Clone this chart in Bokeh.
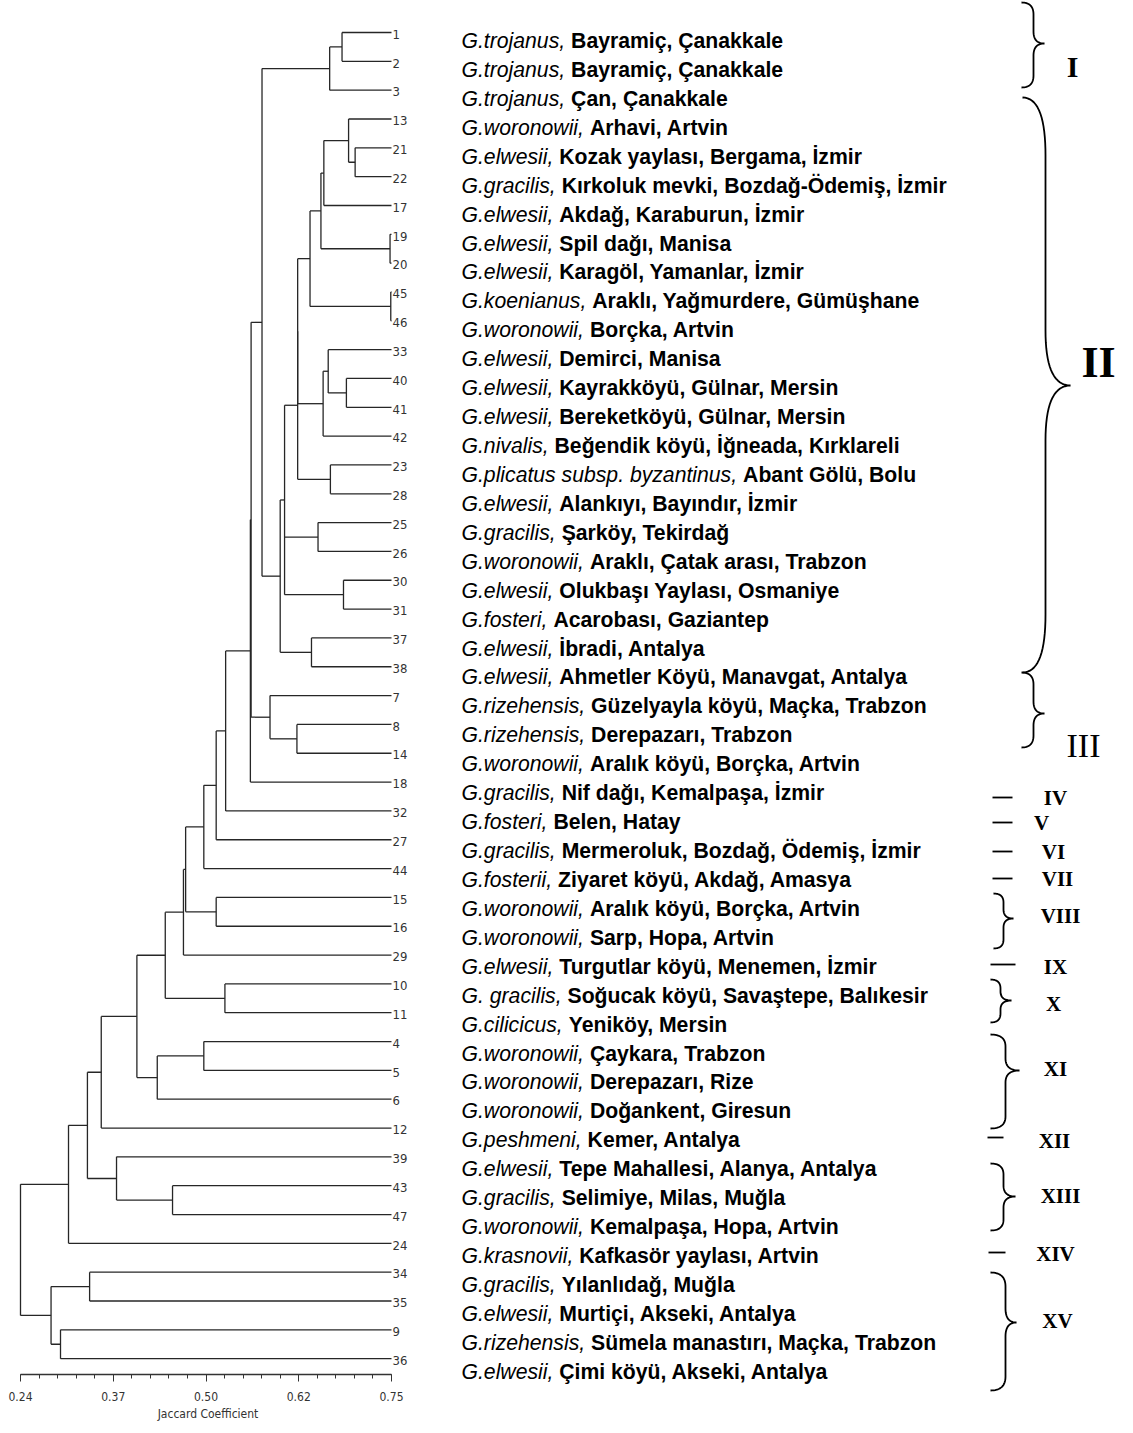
import numpy as np
from bokeh.plotting import figure
from bokeh.models import Range1d, LinearAxis, FixedTicker
from bokeh.layouts import row
from bokeh.core.properties import value
from bokeh.embed import file_html
from bokeh.resources import INLINE

# ---------------- data ----------------
leaf_order = [1, 2, 3, 13, 21, 22, 17, 19, 20, 45, 46, 33, 40, 41, 42, 23, 28, 25, 26,
              30, 31, 37, 38, 7, 8, 14, 18, 32, 27, 44, 15, 16, 29, 10, 11, 4, 5, 6, 12,
              39, 43, 47, 24, 34, 35, 9, 36]

species = ["G.trojanus,", "G.trojanus,", "G.trojanus,", "G.woronowii,", "G.elwesii,",
           "G.gracilis,", "G.elwesii,", "G.elwesii,", "G.elwesii,", "G.koenianus,",
           "G.woronowii,", "G.elwesii,", "G.elwesii,", "G.elwesii,", "G.nivalis,",
           "G.plicatus subsp. byzantinus,", "G.elwesii,", "G.gracilis,", "G.woronowii,",
           "G.elwesii,", "G.fosteri,", "G.elwesii,", "G.elwesii,", "G.rizehensis,",
           "G.rizehensis,", "G.woronowii,", "G.gracilis,", "G.fosteri,", "G.gracilis,",
           "G.fosterii,", "G.woronowii,", "G.woronowii,", "G.elwesii,", "G. gracilis,",
           "G.cilicicus,", "G.woronowii,", "G.woronowii,", "G.woronowii,", "G.peshmeni,",
           "G.elwesii,", "G.gracilis,", "G.woronowii,", "G.krasnovii,", "G.gracilis,",
           "G.elwesii,", "G.rizehensis,", "G.elwesii,"]

localities = ["Bayramiç, Çanakkale", "Bayramiç, Çanakkale", "Çan, Çanakkale",
              "Arhavi, Artvin", "Kozak yaylası, Bergama, İzmir",
              "Kırkoluk mevki, Bozdağ-Ödemiş, İzmir", "Akdağ, Karaburun, İzmir",
              "Spil dağı, Manisa", "Karagöl, Yamanlar, İzmir",
              "Araklı, Yağmurdere, Gümüşhane", "Borçka, Artvin", "Demirci, Manisa",
              "Kayrakköyü, Gülnar, Mersin", "Bereketköyü, Gülnar, Mersin",
              "Beğendik köyü, İğneada, Kırklareli", "Abant Gölü, Bolu",
              "Alankıyı, Bayındır, İzmir", "Şarköy, Tekirdağ",
              "Araklı, Çatak arası, Trabzon", "Olukbaşı Yaylası, Osmaniye",
              "Acarobası, Gaziantep", "İbradi, Antalya",
              "Ahmetler Köyü, Manavgat, Antalya", "Güzelyayla köyü, Maçka, Trabzon",
              "Derepazarı, Trabzon", "Aralık köyü, Borçka, Artvin",
              "Nif dağı, Kemalpaşa, İzmir", "Belen, Hatay",
              "Mermeroluk, Bozdağ, Ödemiş, İzmir", "Ziyaret köyü, Akdağ, Amasya",
              "Aralık köyü, Borçka, Artvin", "Sarp, Hopa, Artvin",
              "Turgutlar köyü,  Menemen, İzmir", "Soğucak köyü, Savaştepe, Balıkesir",
              "Yeniköy, Mersin", "Çaykara, Trabzon", "Derepazarı, Rize",
              "Doğankent, Giresun", "Kemer, Antalya", "Tepe Mahallesi, Alanya, Antalya",
              "Selimiye, Milas, Muğla", "Kemalpaşa, Hopa, Artvin",
              "Kafkasör yaylası, Artvin", "Yılanlıdağ, Muğla", "Murtiçi, Akseki, Antalya",
              "Sümela manastırı, Maçka, Trabzon", "Çimi köyü, Akseki, Antalya"]

merge_names = ["a1", "a2", "b1", "b2", "b3", "b4", "b5", "b6", "b7", "c1", "c2", "c3",
               "d1", "e1", "e2", "f1", "f2", "g1", "h1", "g2", "t1", "i1", "i2", "s1",
               "s2", "v1", "w1", "x1", "j1", "y1", "z1", "k1", "aa", "l1", "l2", "bb",
               "cc", "m1", "m2", "dd", "ee", "n1", "n2", "n3", "root"]
merge_children = [[1, 2], ["a1", 3], [21, 22], [13, "b1"], ["b2", 17], [19, 20],
                  ["b3", "b4"], [45, 46], ["b5", "b6"], [40, 41], [33, "c1"], ["c2", 42],
                  [23, 28], ["b7", "c3"], ["e1", "d1"], [25, 26], [30, 31],
                  ["e2", "f1", "f2"], [37, 38], ["g1", "h1"], ["a2", "g2"], [8, 14],
                  [7, "i1"], ["t1", "i2"], ["s1", 18], ["s2", 32], ["v1", 27], ["w1", 44],
                  [15, 16], ["x1", "j1"], ["y1", 29], [10, 11], ["z1", "k1"], [4, 5],
                  ["l1", 6], ["aa", "l2"], ["bb", 12], [43, 47], [39, "m1"], ["cc", "m2"],
                  ["dd", 24], [34, 35], [9, 36], ["n1", "n2"], ["ee", "n3"]]
merge_heights = [0.682, 0.665, 0.700, 0.691, 0.657, 0.748, 0.653, 0.749, 0.638, 0.688,
                 0.663, 0.656, 0.666, 0.621, 0.621, 0.649, 0.684, 0.603, 0.640, 0.597,
                 0.572, 0.620, 0.583, 0.557, 0.556, 0.522, 0.509, 0.492, 0.509, 0.467,
                 0.464, 0.521, 0.439, 0.492, 0.428, 0.400, 0.351, 0.449, 0.372, 0.332,
                 0.306, 0.335, 0.295, 0.282, 0.240]

tick_values = [0.24, 0.3675, 0.495, 0.6225, 0.75]
tick_labels = ["0.24", "0.37", "0.50", "0.62", "0.75"]
axis_title = "Jaccard Coefficient"

group_names = ["I", "II", "III", "IV", "V", "VI", "VII", "VIII", "IX", "X", "XI", "XII",
               "XIII", "XIV", "XV"]

# ---------------- layout helpers (pixel placement) ----------------
KX = 0.51 / 371.0
def xd(px):
    return 0.24 + (px - 20.0) * KX
def yd(py):
    return (py - 32.0) / 28.83

LEAF_X = 0.75
LINE = "#262626"
NARROW = "DejaVu Sans Condensed"
SPLIT = 415
TOTAL_W = 1130
TOTAL_H = 1430
AXIS_Y = 1374

def no_align(fig):
    try:
        fig.frame_align = False
    except Exception:
        pass

# ---------------- left figure: dendrogram ----------------
left = figure(width=SPLIT, height=TOTAL_H,
              x_range=Range1d(xd(0), xd(SPLIT)), y_range=Range1d(yd(AXIS_Y), yd(0)),
              output_backend="svg", toolbar_location=None,
              x_axis_location=None, y_axis_location=None,
              min_border_left=0, min_border_right=0, min_border_top=0,
              min_border_bottom=TOTAL_H - AXIS_Y)
left.outline_line_color = None
left.grid.visible = False
no_align(left)

pos = {}
for i, leaf in enumerate(leaf_order):
    pos[leaf] = (LEAF_X, float(i))
x0s, y0s, x1s, y1s = [], [], [], []
for name, kids, h in zip(merge_names, merge_children, merge_heights):
    ys = [pos[k][1] for k in kids]
    for k in kids:
        kx, ky = pos[k]
        x0s.append(h); y0s.append(ky); x1s.append(kx); y1s.append(ky)
    x0s.append(h); y0s.append(min(ys)); x1s.append(h); y1s.append(max(ys))
    pos[name] = (h, (ys[0] + ys[-1]) / 2.0)
left.segment(x0=x0s, y0=y0s, x1=x1s, y1=y1s, line_color=LINE, line_width=1.3)

left.text(x=[xd(392)] * len(leaf_order), y=[i + 0.06 for i in range(len(leaf_order))],
          text=[str(v) for v in leaf_order], text_font=value(NARROW),
          text_font_size="13px", text_color="#333333", text_align="left",
          text_baseline="middle")

minor = [0.24 + 0.0255 * k for k in range(21)]
ax = LinearAxis(ticker=FixedTicker(ticks=tick_values, minor_ticks=minor),
                bounds=(0.24, 0.75), axis_label=axis_title)
ax.major_label_overrides = dict(zip(tick_values, tick_labels))
ax.axis_line_color = "#333333"
ax.axis_line_width = 1.5
ax.major_tick_line_color = "#333333"
ax.minor_tick_line_color = "#333333"
ax.major_tick_in = 0
ax.major_tick_out = 7
ax.minor_tick_in = 0
ax.minor_tick_out = 4
ax.major_label_text_font = NARROW
ax.major_label_text_font_size = "12px"
ax.major_label_text_color = "#333333"
ax.major_label_standoff = 10
ax.axis_label_text_font = NARROW
ax.axis_label_text_font_size = "12px"
ax.axis_label_text_font_style = "normal"
ax.axis_label_text_color = "#333333"
ax.axis_label_standoff = 3
left.add_layout(ax, "below")

# ---------------- right figure: labels and groups ----------------
right = figure(width=TOTAL_W - SPLIT, height=TOTAL_H,
               x_range=Range1d(xd(SPLIT), xd(TOTAL_W)), y_range=Range1d(yd(TOTAL_H), yd(0)),
               output_backend="svg", toolbar_location=None,
               x_axis_location=None, y_axis_location=None, min_border=0)
right.outline_line_color = None
right.grid.visible = False
no_align(right)

W = {'a': 556, 'b': 556, 'c': 500, 'd': 556, 'e': 556, 'f': 278, 'g': 556, 'h': 556,
     'i': 222, 'j': 222, 'k': 500, 'l': 222, 'm': 833, 'n': 556, 'o': 556, 'p': 556,
     'q': 556, 'r': 333, 's': 500, 't': 278, 'u': 556, 'v': 500, 'w': 722, 'x': 500,
     'y': 500, 'z': 500, 'G': 778, '.': 278, ',': 278, ' ': 278}
FS = 21.2
TX = 461
row_y = [yd(40 + 28.93 * i) for i in range(len(species))]
sp_x = [xd(TX)] * len(species)
loc_x = [xd(TX + (sum(W.get(c, 556) for c in s) + 278) * FS / 1000.0) for s in species]
right.text(x=sp_x, y=row_y, text=species, text_font=value("Liberation Sans"),
           text_font_size=f"{FS}px", text_font_style="italic", text_color="black",
           text_align="left", text_baseline="middle")
right.text(x=loc_x, y=row_y, text=localities, text_font=value("Liberation Sans"),
           text_font_size=f"{FS}px", text_font_style="bold", text_color="black",
           text_align="left", text_baseline="middle")

def qbez(a, c, b, n=18):
    t = np.linspace(0, 1, n)[:, None]
    a, c, b = np.array(a), np.array(c), np.array(b)
    return (1 - t) ** 2 * a + 2 * (1 - t) * t * c + t ** 2 * b

def brace(xe, xs, xt, yt, ym, yb, re, rt):
    parts = [qbez((xe, yt), (xs, yt), (xs, yt + re)),
             qbez((xs, ym - rt), (xs, ym), (xt, ym)),
             qbez((xt, ym), (xs, ym), (xs, ym + rt)),
             qbez((xs, yb - re), (xs, yb), (xe, yb))]
    pts = np.vstack(parts)
    return [xd(v) for v in pts[:, 0]], [yd(v) for v in pts[:, 1]]

brace_layout = {
    "I": (1021, 1033, 1044, 2, 43, 87, 12, 12),
    "II": (1022, 1045, 1070, 97, 385, 672, 58, 55),
    "III": (1021, 1033, 1044, 672, 713, 747, 12, 12),
    "VIII": (993, 1003, 1013, 893, 918, 948, 9, 9),
    "X": (990, 1000, 1011, 979, 1000, 1022, 9, 9),
    "XI": (990, 1005, 1019, 1034, 1070, 1128, 12, 12),
    "XIII": (990, 1003, 1015, 1163, 1196, 1230, 11, 11),
    "XV": (990, 1005, 1016, 1272, 1322, 1390, 14, 14),
}
bx, by = [], []
for g in group_names:
    if g in brace_layout:
        xs_, ys_ = brace(*brace_layout[g])
        bx.append(xs_); by.append(ys_)
right.multi_line(xs=bx, ys=by, line_color="black", line_width=1.8)

dash_layout = {"IV": (992, 1012, 797), "V": (992, 1012, 822), "VI": (992, 1012, 851),
               "VII": (992, 1012, 878), "IX": (990, 1015, 964), "XII": (987, 1003, 1137),
               "XIV": (988, 1005, 1252)}
dx0, dx1, dy = [], [], []
for g in group_names:
    if g in dash_layout:
        a, b, c = dash_layout[g]
        dx0.append(xd(a)); dx1.append(xd(b)); dy.append(yd(c))
right.segment(x0=dx0, y0=dy, x1=dx1, y1=dy, line_color="black", line_width=1.8)

num_layout = {"I": (1072, 66, 30, "bold"), "II": (1098, 362, 44, "bold"),
              "III": (1083, 745, 34, "normal"), "IV": (1055, 797, 21, "bold"),
              "V": (1041, 822, 21, "bold"), "VI": (1053, 851, 21, "bold"),
              "VII": (1057, 878, 21, "bold"), "VIII": (1060, 915, 21, "bold"),
              "IX": (1055, 966, 21, "bold"), "X": (1053, 1003, 21, "bold"),
              "XI": (1055, 1068, 21, "bold"), "XII": (1054, 1140, 21, "bold"),
              "XIII": (1060, 1195, 21, "bold"), "XIV": (1055, 1253, 21, "bold"),
              "XV": (1057, 1320, 21, "bold")}
for g in group_names:
    x_, y_, s_, st_ = num_layout[g]
    right.text(x=[xd(x_)], y=[yd(y_)], text=[g], text_font=value("Liberation Serif"),
               text_font_size=f"{s_}px", text_font_style=st_, text_color="black",
               text_align="center", text_baseline="middle")

layout = row(left, right, spacing=0)
open("out.html", "w").write(file_html(layout, INLINE))
